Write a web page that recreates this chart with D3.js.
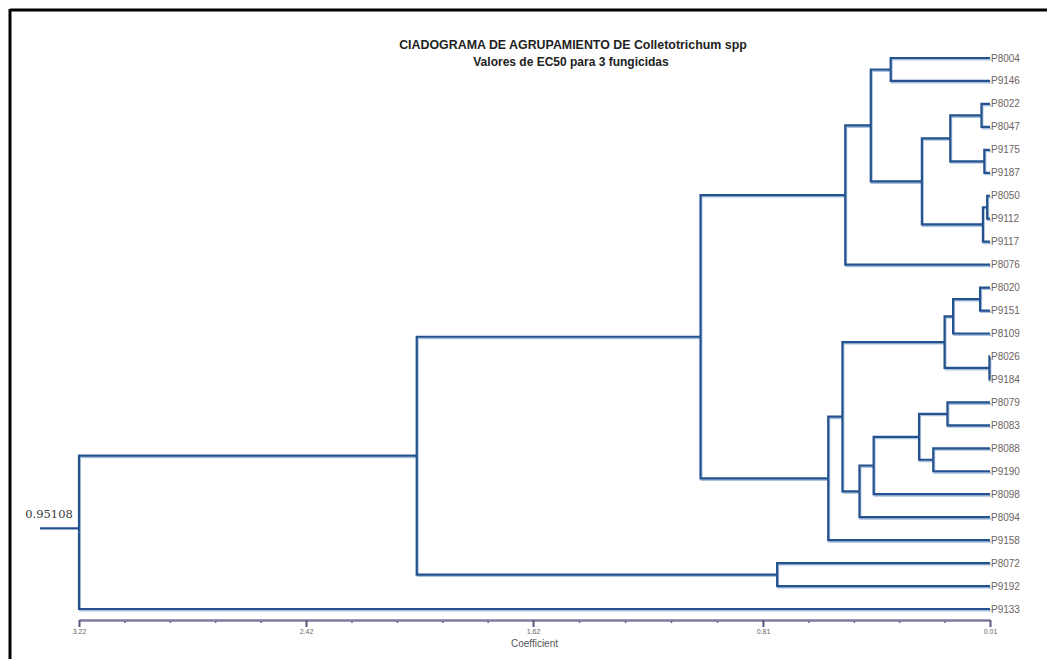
<!DOCTYPE html>
<html>
<head>
<meta charset="utf-8">
<script src="https://cdn.jsdelivr.net/npm/d3@7"></script>
<style>
  body { margin: 0; background: #fff; }
  svg { display: block; }
</style>
</head>
<body>
<div id="chart"></div>
<script>
// leaves, top to bottom
const leaves = [
  'P8004', 'P9146', 'P8022', 'P8047', 'P9175', 'P9187', 'P8050', 'P9112', 'P9117',
  'P8076', 'P8020', 'P9151', 'P8109', 'P8026', 'P9184', 'P8079', 'P8083', 'P8088',
  'P9190', 'P8098', 'P8094', 'P9158', 'P8072', 'P9192', 'P9133'
];

// merges: [cluster, upper child, lower child, coefficient]
const merges = [
  ['G', 'P8004', 'P9146', 0.36],
  ['K', 'P8022', 'P8047', 0.04],
  ['L', 'P9175', 'P9187', 0.03],
  ['I', 'K', 'L', 0.15],
  ['M', 'P8050', 'P9112', 0.02],
  ['J', 'M', 'P9117', 0.035],
  ['H', 'I', 'J', 0.25],
  ['F', 'G', 'H', 0.43],
  ['D', 'F', 'P8076', 0.52],
  ['S', 'P8020', 'P9151', 0.045],
  ['Q', 'S', 'P8109', 0.14],
  ['R', 'P8026', 'P9184', 0.012],
  ['O', 'Q', 'R', 0.17],
  ['V', 'P8079', 'P8083', 0.16],
  ['W', 'P8088', 'P9190', 0.21],
  ['U', 'V', 'W', 0.26],
  ['T', 'U', 'P8098', 0.42],
  ['P', 'T', 'P8094', 0.47],
  ['N', 'O', 'P', 0.53],
  ['E', 'N', 'P9158', 0.58],
  ['B', 'D', 'E', 1.03],
  ['C', 'P8072', 'P9192', 0.76],
  ['A', 'B', 'C', 2.03],
  ['root', 'A', 'P9133', 3.22]
];

const leafHeight = 0.01;
const axisTicks = [3.22, 2.42, 1.62, 0.81, 0.01];
const rootLabel = '0.95108';
const titleLines = ['CIADOGRAMA DE AGRUPAMIENTO DE Colletotrichum spp', 'Valores de EC50 para 3 fungicidas'];
const axisTitle = 'Coefficient';

const W = 1047, H = 659;
const dark = '#24528f', light = '#a9c1dd';

const svg = d3.select('#chart').append('svg')
  .attr('width', W).attr('height', H);

// frame (top + left edge of the cropped box)
svg.append('line').attr('x1', 10).attr('x2', W).attr('y1', 10).attr('y2', 10)
  .attr('stroke', '#000').attr('stroke-width', 3);
svg.append('line').attr('x1', 10).attr('x2', 10).attr('y1', 9).attr('y2', H)
  .attr('stroke', '#000').attr('stroke-width', 3);

// build tree
const byId = {};
leaves.forEach((l) => { byId[l] = { name: l, h: leafHeight }; });
merges.forEach(([id, a, b, h]) => {
  byId[id] = { name: id, h: h, children: [byId[a], byId[b]] };
});
const root = d3.hierarchy(byId['root']);

const x = d3.scaleLinear().domain([3.22, 0.01]).range([79, 990]);
const yLeaf = d3.scalePoint().domain(leaves).range([58, 609]);

root.eachAfter((n) => {
  n.px = x(n.data.h);
  n.py = n.children ? d3.mean(n.children, (c) => c.py) : yLeaf(n.data.name);
});

const elbow = (l) => `M${l.source.px},${l.source.py}V${l.target.py}H${l.target.px}`;

const g = svg.append('g');
g.selectAll('path.shadow')
  .data(root.links())
  .join('path')
  .attr('class', 'shadow')
  .attr('transform', 'translate(1,1.5)')
  .attr('fill', 'none')
  .attr('stroke', light)
  .attr('stroke-width', 2)
  .attr('d', elbow);
g.selectAll('path.branch')
  .data(root.links())
  .join('path')
  .attr('class', 'branch')
  .attr('fill', 'none')
  .attr('stroke', dark)
  .attr('stroke-width', 2.2)
  .attr('d', elbow);

// root stub
g.append('line')
  .attr('x1', root.px - 39).attr('x2', root.px)
  .attr('y1', root.py - 4).attr('y2', root.py - 4)
  .attr('stroke', dark).attr('stroke-width', 2.2);

svg.append('text')
  .attr('x', root.px - 30).attr('y', root.py - 14)
  .attr('text-anchor', 'middle')
  .attr('font-family', 'DejaVu Serif')
  .attr('font-size', 11.5)
  .attr('fill', '#3a3a3a')
  .text(rootLabel);

// leaf labels
svg.selectAll('text.leaf')
  .data(root.leaves())
  .join('text')
  .attr('class', 'leaf')
  .attr('x', (d) => d.px + 1)
  .attr('y', (d) => d.py)
  .attr('dy', '0.35em')
  .attr('font-family', 'Liberation Sans, Arial, sans-serif')
  .attr('font-size', 10)
  .attr('fill', '#6d6464')
  .text((d) => d.data.name);

// title
svg.selectAll('text.title')
  .data(titleLines)
  .join('text')
  .attr('class', 'title')
  .attr('x', (d, i) => (i === 0 ? 573 : 571))
  .attr('y', (d, i) => 49 + i * 16.5)
  .attr('text-anchor', 'middle')
  .attr('font-family', 'Liberation Sans, Arial, sans-serif')
  .attr('font-weight', 'bold')
  .attr('font-size', (d, i) => (i === 0 ? 12.4 : 12))
  .attr('fill', '#222')
  .text((d) => d);

// axis
const axisY = 620;
const minor = [];
for (let i = 0; i < axisTicks.length - 1; i++) {
  const a = axisTicks[i], b = axisTicks[i + 1];
  for (let k = 1; k < 5; k++) minor.push(a + (b - a) * k / 5);
}

const minorAxis = svg.append('g')
  .attr('transform', `translate(0,${axisY})`)
  .call(d3.axisBottom(x).tickValues(minor).tickSize(3).tickFormat(''));
minorAxis.select('.domain').remove();
minorAxis.selectAll('line').attr('stroke', '#5a5a80').attr('stroke-width', 1.5);

const axis = svg.append('g')
  .attr('transform', `translate(0,${axisY})`)
  .call(d3.axisBottom(x).tickValues(axisTicks).tickSize(7).tickSizeOuter(0)
    .tickFormat((d) => d.toFixed(2)));
axis.select('.domain').attr('stroke', '#7c7ca0').attr('stroke-width', 2.5);
axis.selectAll('line').attr('stroke', '#5a5a80').attr('stroke-width', 2);
axis.selectAll('text')
  .attr('fill', '#666')
  .attr('font-size', 7)
  .attr('font-family', 'Liberation Sans, Arial, sans-serif')
  .attr('dy', '0.5em');

svg.append('text')
  .attr('x', (x(axisTicks[0]) + x(axisTicks[axisTicks.length - 1])) / 2)
  .attr('y', 647)
  .attr('text-anchor', 'middle')
  .attr('font-family', 'Liberation Sans, Arial, sans-serif')
  .attr('font-size', 10)
  .attr('fill', '#555')
  .text(axisTitle);
</script>
</body>
</html>
